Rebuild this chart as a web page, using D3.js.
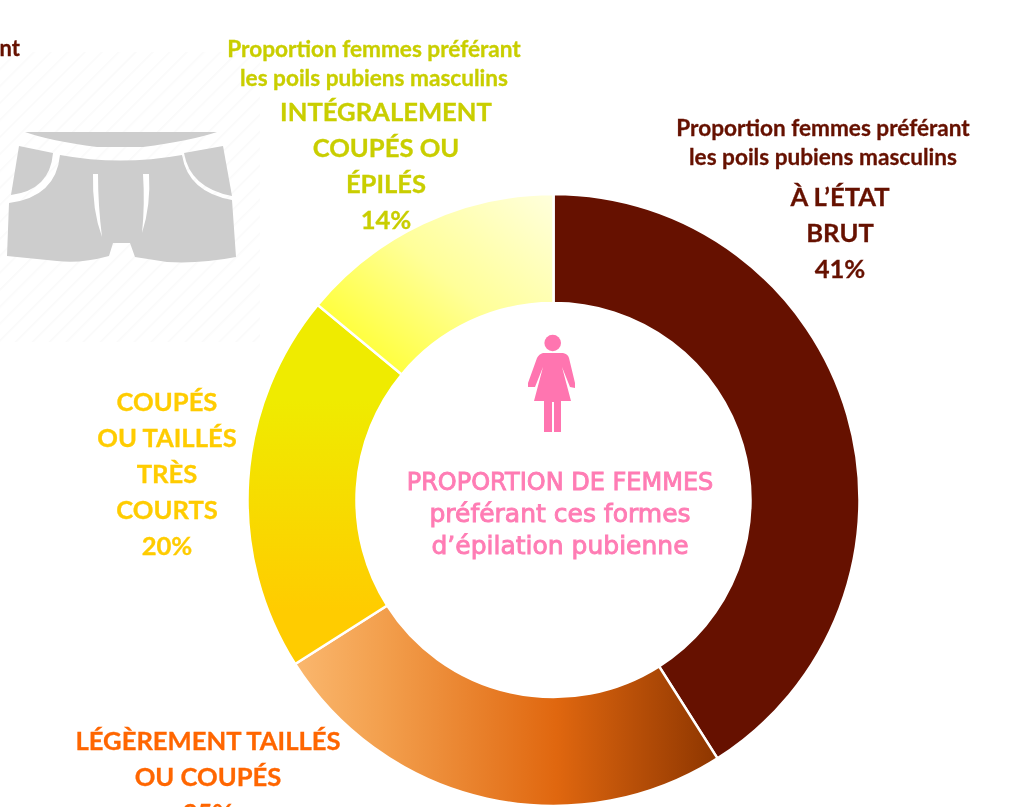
<!DOCTYPE html>
<html lang="fr">
<head>
<meta charset="utf-8">
<script src="https://cdn.jsdelivr.net/npm/d3@7"></script>
<style>
  body { margin: 0; background: #fff; }
  svg { display: block; filter: blur(0.5px); }
  text { font-family: Lato, sans-serif; font-weight: bold; text-anchor: middle; stroke-width: 0.3; }
</style>
</head>
<body>
<div id="canvas"></div>
<script>
"use strict"

/* values, clockwise from the top */
const categories = ["À L’ÉTAT BRUT", "LÉGÈREMENT TAILLÉS OU COUPÉS", "COUPÉS OU TAILLÉS TRÈS COURTS", "INTÉGRALEMENT COUPÉS OU ÉPILÉS"];
const shares = [41, 25, 20, 14];
const sliceFills = ["#661100", "url(#orangeGrad)", "url(#yellowGrad)", "url(#paleGrad)"];

const introLines = ["Proportion femmes préférant", "les poils pubiens masculins"];
const centreLines = ["PROPORTION DE FEMMES", "préférant ces formes", "d’épilation pubienne"];

const width = 1019, height = 807;
const cx = 553.5, cy = 500, outerR = 306, innerR = 197;

let drawing = d3.select("#canvas")
    .append("svg")
    .attr("width", width)
    .attr("height", height);

let defs = drawing.append("defs");

/* faint diagonal hatching behind the shorts */
let hatch = defs.append("pattern")
    .attr("id", "hatch")
    .attr("width", 12)
    .attr("height", 12)
    .attr("patternUnits", "userSpaceOnUse")
    .attr("patternTransform", "rotate(45)");
hatch.append("line")
    .attr("x1", 0).attr("y1", 0)
    .attr("x2", 0).attr("y2", 12)
    .attr("stroke", "#fafafa")
    .attr("stroke-width", 3);

/* gradient coordinates are page pixels, the donut group is translated so shift them */
function gradient(id, x1, y1, x2, y2, stops) {
    let g = defs.append("linearGradient")
        .attr("id", id)
        .attr("gradientUnits", "userSpaceOnUse")
        .attr("x1", x1 - cx).attr("y1", y1 - cy)
        .attr("x2", x2 - cx).attr("y2", y2 - cy);
    stops.forEach(s => g.append("stop").attr("offset", s[0]).attr("stop-color", s[1]));
}
gradient("orangeGrad", 296, 0, 716, 0, [[0, "#FAB76E"], [0.2, "#F3A04E"], [0.62, "#E0670F"], [1, "#8E3600"]]);
gradient("yellowGrad", 0, 400, 0, 610, [[0, "#EFEB00"], [1, "#FFCC00"]]);
gradient("paleGrad", 400, 375, 550, 200, [[0, "#FFFF40"], [0.45, "#FFFF99"], [1, "#FFFFD9"]]);

drawing.append("rect")
    .attr("x", 0).attr("y", 52)
    .attr("width", 260).attr("height", 290)
    .attr("fill", "url(#hatch)");

/* donut */
let pie = d3.pie().sort(null).value(d => d)(shares);
let arc = d3.arc().innerRadius(innerR).outerRadius(outerR);

drawing.append("g")
    .attr("transform", `translate(${cx},${cy})`)
    .selectAll("path")
    .data(pie)
    .join("path")
    .attr("d", arc)
    .attr("fill", (d, i) => sliceFills[i])
    .attr("stroke", "#fff")
    .attr("stroke-width", 2.5);

/* labels */
function label(lines, x, firstY, step, size, color) {
    lines.forEach((t, i) => {
        drawing.append("text")
            .attr("x", x)
            .attr("y", firstY + i * step)
            .attr("font-size", size)
            .attr("fill", color)
            .attr("stroke", color)
            .text(t);
    });
}

drawing.append("text")
    .attr("x", 20).attr("y", 56)
    .attr("font-size", 22)
    .attr("fill", "#661100")
    .attr("stroke", "#661100")
    .style("text-anchor", "end")
    .text("nt");

label(introLines, 374, 57, 29, 22.6, "#C9CE00");
label(["INTÉGRALEMENT", "COUPÉS OU", "ÉPILÉS", shares[3] + "%"], 386, 121, 36, 25.6, "#C9CE00");

label(introLines, 823, 136, 29, 22.6, "#661100");
label(["À L’ÉTAT", "BRUT", shares[0] + "%"], 840, 206, 36, 25.6, "#661100");

label(["COUPÉS", "OU TAILLÉS", "TRÈS", "COURTS", shares[2] + "%"], 167, 411, 36, 25.6, "#FFCC00");

label(["LÉGÈREMENT TAILLÉS", "OU COUPÉS", shares[1] + "%"], 208, 750, 36, 25.6, "#FF6600");

/* centre text */
drawing.selectAll("text.centre")
    .data(centreLines)
    .join("text")
    .attr("class", "centre")
    .attr("x", 560)
    .attr("y", (d, i) => 490 + i * 32)
    .attr("font-size", (d, i) => i == 0 ? 24 : 25)
    .attr("fill", "#FF7CB4")
    .style("font-family", "'DejaVu Sans', sans-serif")
    .style("font-weight", "normal")
    .style("stroke", "#FF7CB4")
    .style("stroke-width", 0.9)
    .text(d => d);

/* woman icon */
let woman = drawing.append("g").attr("fill", "#FF75B0");
woman.append("circle").attr("cx", 552.7).attr("cy", 343).attr("r", 8.3);
woman.append("path")
    .attr("d", "M543,353 L563,353 Q568,354 569,358 L575,383 L575,388 L570,387 L562,367 L571,401 L561,401 L561,432 L554,432 L554,402 L552,402 L552,432 L544,432 L544,401 L534,401 L543,367 L535,387 L528,387 L528,383 L537,358 Q539,354 543,353 Z");

/* shorts icon */
let shorts = drawing.append("g").attr("fill", "#cdcdcd");
shorts.append("path")
    .attr("d", "M25,132 L217,132 Q190,141 143,147 L97,147 Q50,141 25,132 Z");
shorts.append("path")
    .attr("d", "M19,146 L53,153 Q50,190 11,195 Z");
shorts.append("path")
    .attr("d", "M223,146 L184,153 Q190,188 232,196 Z");
shorts.append("path")
    .attr("d", "M60,155 Q120,166 182,155 Q188,192 232,200 L236,257 Q200,264 167,262 L135,257 L130,243 L113,243 L109,256 Q80,264 57,261 L7,256 L9,203 Q56,197 60,155 Z");
shorts.append("path").attr("fill", "#fff")
    .attr("d", "M93,174 L98,174 Q98,205 102,237 Q92,210 93,174 Z");
shorts.append("path").attr("fill", "#fff")
    .attr("d", "M143,174 L149,174 Q151,205 142,233 Q145,205 143,174 Z");
</script>
</body>
</html>
